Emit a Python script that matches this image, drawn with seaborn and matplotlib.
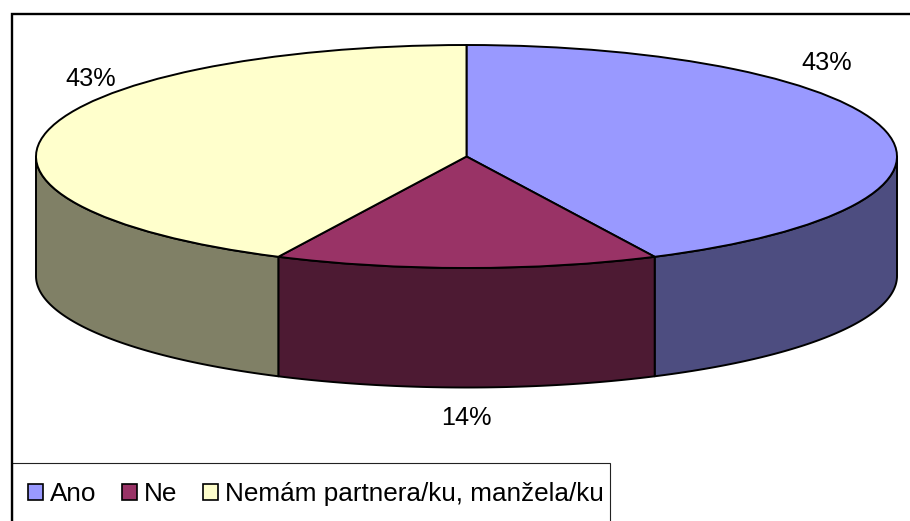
import numpy as np
import matplotlib
matplotlib.use("Agg")
import matplotlib.pyplot as plt
from matplotlib.patches import Patch, Rectangle
import seaborn as sns

categories = ["Ano", "Ne", "Nemám partnera/ku, manžela/ku"]
values = [42.8, 14.4, 42.8]
top_colors = ["#9999FF", "#993366", "#FFFFCC"]
side_colors = ["#4D4D80", "#4D1A33", "#808066"]

W, H = 910, 521
CX, CY, RX, RY, DEPTH = 466.5, 156.5, 430.5, 111.5, 119.5
LW = 1.4

sns.set_theme(style="white")
plt.rcParams["font.family"] = ["Liberation Sans", "DejaVu Sans"]

fig = plt.figure(figsize=(W / 100, H / 100), dpi=100, facecolor="white")
ax = fig.add_axes([0, 0, 1, 1])

def ux(x):
    return (x - CX) / RX

def uy(y):
    return (CY - y) / RY

# Chart frame and legend box (pixel positions converted to axis units)
ax.plot([ux(12.5), ux(12.5), ux(W + 2)], [uy(H + 2), uy(13.5), uy(13.5)],
        color="black", lw=1.7, zorder=5, solid_joinstyle="miter")
ax.add_patch(Rectangle((ux(12.5), uy(H + 2)), ux(610) - ux(12.5), uy(463) - uy(H + 2),
                       facecolor="white", edgecolor="#222222", lw=0.8, zorder=4))

# Side walls of the disc: front half only
depth = DEPTH / RY
edges = 90 - 360 * np.cumsum([0] + values) / np.sum(values)
for start, stop, col in zip(edges[:-1], edges[1:], side_colors):
    lo, hi = max(stop, -180), min(start, 0)
    if hi <= lo:
        continue
    th = np.radians(np.linspace(hi, lo, 120))
    xs = np.cos(th)
    ys = np.sin(th)
    ax.fill(np.r_[xs, xs[::-1]], np.r_[ys, ys[::-1] - depth],
            facecolor=col, edgecolor="black", lw=LW, zorder=1, joinstyle="round")

# Top face
ax.pie(values, colors=sns.color_palette(top_colors), startangle=90, counterclock=False,
       radius=1, center=(0, 0), wedgeprops=dict(edgecolor="black", linewidth=LW, zorder=2))
ax.set_aspect("auto")
ax.set_xlim(ux(0), ux(W))
ax.set_ylim(uy(H), uy(0))
ax.axis("off")

# Percentage labels
label_pos = [(827, 63), (466, 418), (91, 79)]
for v, (px, py) in zip(values, label_pos):
    ax.text(ux(px), uy(py), f"{round(v)}%", fontsize=18.2, color="black",
            ha="center", va="center", zorder=6)

# Legend
handles = [Patch(facecolor=c, edgecolor="black", lw=1.2) for c in top_colors]
leg = ax.legend(handles, categories, ncol=3, frameon=False, fontsize=18.85,
                loc="center left", bbox_to_anchor=(28 / W, 1 - 494 / H),
                bbox_transform=ax.transAxes, borderpad=0, borderaxespad=0,
                handlelength=0.57, handleheight=0.57, handletextpad=0.27,
                columnspacing=0.98, labelspacing=0)
leg.set_zorder(6)
for t in leg.get_texts():
    t.set_color("black")

fig.savefig("out.png", dpi=100)
